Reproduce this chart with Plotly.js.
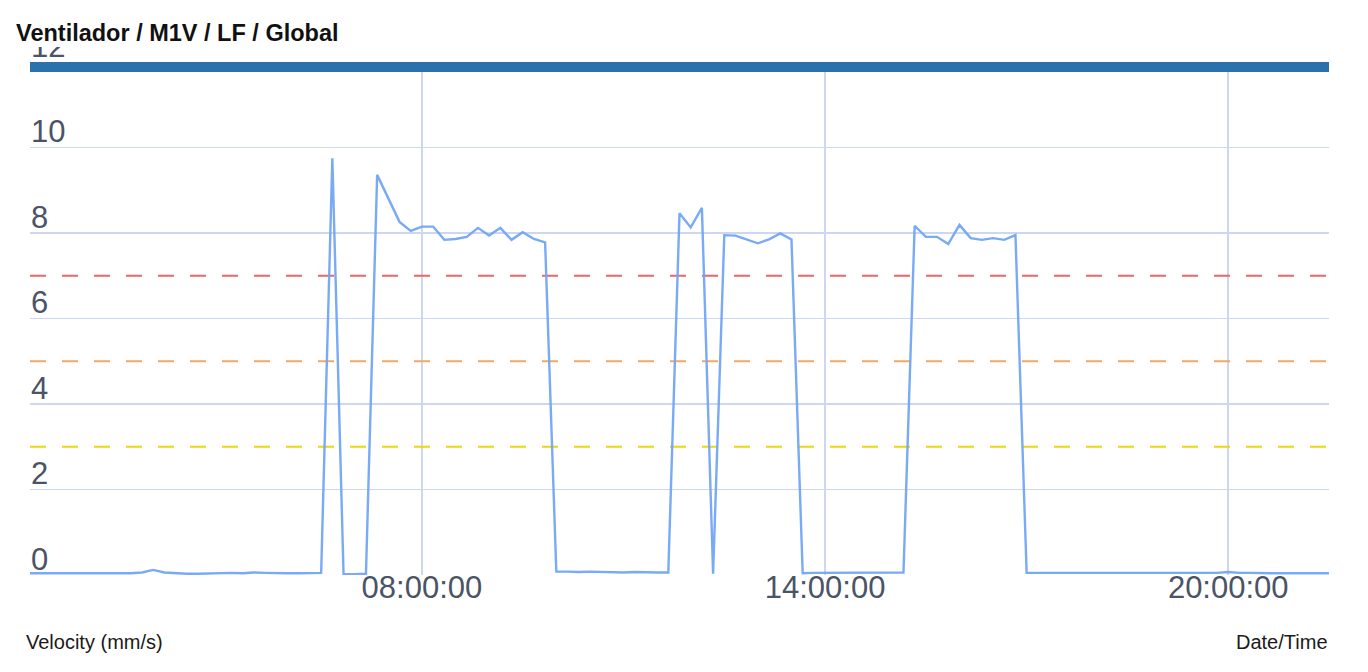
<!DOCTYPE html>
<html>
<head>
<meta charset="utf-8">
<script src="https://cdn.plot.ly/plotly-3.0.1.min.js"></script>
<style>
  html, body { margin: 0; padding: 0; background: #ffffff; }
  #chart { width: 1368px; height: 672px; }
</style>
</head>
<body>
<div id="chart"></div>
<script>
// Sample times (10-minute readings)
const times = [
  "02:10","02:20","02:30","02:40","02:50",
  "03:00","03:10","03:20","03:30","03:40","03:50",
  "04:00","04:10","04:20","04:30","04:40","04:50",
  "05:00","05:10","05:20","05:30","05:40","05:50",
  "06:00","06:10","06:20","06:30","06:40","06:50",
  "07:00","07:10","07:20","07:30","07:40","07:50",
  "08:00","08:10","08:20","08:30","08:40","08:50",
  "09:00","09:10","09:20","09:30","09:40","09:50",
  "10:00","10:10","10:20","10:30","10:40","10:50",
  "11:00","11:10","11:20","11:30","11:40","11:50",
  "12:00","12:10","12:20","12:30","12:40","12:50",
  "13:00","13:10","13:20","13:30","13:40","13:50",
  "14:00","14:10","14:20","14:30","14:40","14:50",
  "15:00","15:10","15:20","15:30","15:40","15:50",
  "16:00","16:10","16:20","16:30","16:40","16:50",
  "17:00","17:10","17:20","17:30","17:40","17:50",
  "18:00","18:10","18:20","18:30","18:40","18:50",
  "19:00","19:10","19:20","19:30","19:40","19:50",
  "20:00","20:10","20:20","20:30","20:40","20:50",
  "21:00","21:10","21:20","21:30"
];
const day = "2024-01-01";

// Velocity (mm/s)
const velocity = [
  0.04,0.04,0.03,0.03,0.04,
  0.04,0.03,0.03,0.03,0.04,0.06,
  0.12,0.06,0.04,0.03,0.03,0.04,
  0.04,0.05,0.04,0.06,0.05,0.04,
  0.04,0.04,0.04,0.05,9.75,0.02,
  0.02,0.03,9.36,8.80,8.26,8.05,
  8.15,8.15,7.84,7.86,7.91,8.12,
  7.94,8.12,7.84,8.02,7.86,7.78,
  0.08,0.08,0.07,0.08,0.07,0.07,
  0.06,0.07,0.06,0.06,0.06,8.46,
  8.13,8.59,0.03,7.95,7.94,7.85,
  7.76,7.85,7.99,7.85,0.04,0.05,
  0.05,0.06,0.06,0.05,0.05,0.05,
  0.06,0.06,8.17,7.91,7.91,7.74,
  8.19,7.88,7.84,7.88,7.84,7.95,
  0.05,0.05,0.05,0.06,0.05,0.05,
  0.05,0.05,0.05,0.05,0.05,0.05,
  0.05,0.05,0.05,0.05,0.05,0.05,
  0.07,0.05,0.05,0.04,0.04,0.04,
  0.04,0.04,0.04,0.04
];

// Alarm levels
const levelValues = [3, 5, 7];
const levelColors = ["#e8d80c", "#f6a85c", "#ef6464"];
const topLevel = [12];
const yTicks = [0, 2, 4, 6, 8, 10, 12];

const x = times.map(t => day + " " + t + ":00");
const x0 = x[0], x1 = x[x.length - 1];

const traces = [];
levelValues.forEach((v, k) => {
  traces.push({
    x: [x0, x1], y: [v, v], type: "scatter", mode: "lines",
    line: { color: levelColors[k], width: 2, dash: "16px,16px" },
    hoverinfo: "skip", showlegend: false
  });
});
traces.push({
  x: x, y: velocity, type: "scatter", mode: "lines",
  line: { color: "#72a5f6", width: 2.4 },
  opacity: 0.95, showlegend: false
});
traces.push({
  x: [x0, x1], y: [topLevel[0], topLevel[0]], type: "scatter", mode: "lines",
  line: { color: "#2b72ac", width: 20 },
  hoverinfo: "skip", showlegend: false
});

const layout = {
  width: 1368, height: 672,
  margin: { l: 30, r: 39, t: 62, b: 97 },
  paper_bgcolor: "#ffffff", plot_bgcolor: "#ffffff",
  font: { family: "Liberation Sans, Arial, sans-serif", color: "#4a5466" },
  title: {
    text: "<b>Ventilador / M1V / LF / Global</b>",
    font: { size: 23.5, color: "#111111", family: "Liberation Sans, Arial, sans-serif" },
    xref: "container", yref: "container",
    x: 16 / 1368, xanchor: "left",
    y: 1 - 33 / 672, yanchor: "middle"
  },
  xaxis: {
    type: "date",
    range: [x0, x1],
    tick0: day + " 02:00:00", dtick: 6 * 3600 * 1000,
    tickformat: "%H:%M:%S",
    showgrid: true, gridcolor: "#cdd7f2", gridwidth: 1.5,
    zeroline: false, showline: false, ticks: "",
    tickfont: { size: 31, color: "#4a5466" },
    ticklabelstandoff: -9
  },
  yaxis: {
    range: [0, 12],
    tickvals: yTicks,
    ticktext: yTicks.map(String),
    side: "right", anchor: "free", position: 0,
    showgrid: true, gridcolor: "#cdd7f2", gridwidth: 1.5,
    zeroline: false, showline: false, ticks: "",
    ticklabelshift: -16,
    ticklabelstandoff: 0,
    tickfont: { size: 31, color: "#4a5466" }
  },
  shapes: [{
    type: "rect", xref: "paper", yref: "paper", layer: "above",
    x0: -0.03, x1: 0.3, y0: 1.029, y1: 1.2,
    fillcolor: "#ffffff", line: { width: 0 }
  }],
  annotations: [
    {
      text: "Velocity (mm/s)", xref: "paper", yref: "paper",
      x: -0.0046, xanchor: "left", y: -0.13, yanchor: "middle",
      showarrow: false, font: { size: 20, color: "#1a1a1a" }
    },
    {
      text: "Date/Time", xref: "paper", yref: "paper",
      x: 1.0008, xanchor: "right", y: -0.13, yanchor: "middle",
      showarrow: false, font: { size: 20, color: "#1a1a1a" }
    }
  ],
  showlegend: false,
  hovermode: false
};

Plotly.newPlot("chart", traces, layout, { displayModeBar: false, staticPlot: true });
</script>
</body>
</html>
